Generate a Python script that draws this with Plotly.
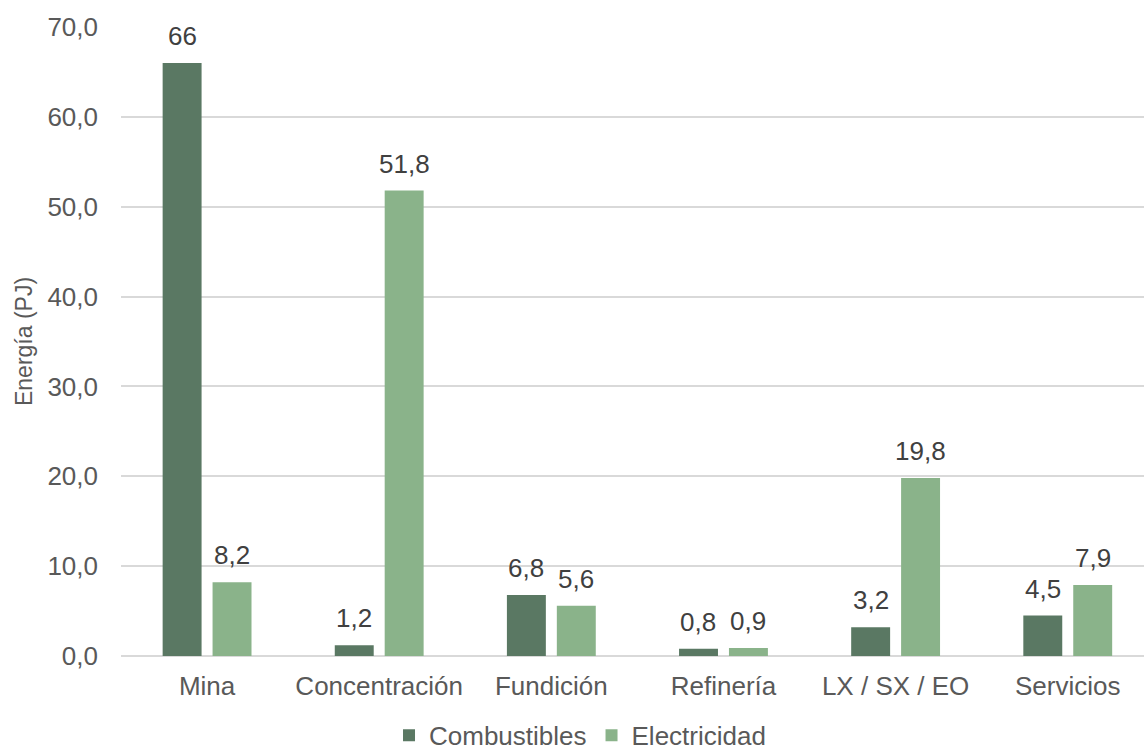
import plotly.graph_objects as go

categorias = ["Mina", "Concentración", "Fundición", "Refinería", "LX / SX / EO", "Servicios"]
combustibles = [66, 1.2, 6.8, 0.8, 3.2, 4.5]
electricidad = [8.2, 51.8, 5.6, 0.9, 19.8, 7.9]
y_ticks = [0, 10, 20, 30, 40, 50, 60, 70]

FONT = "Liberation Sans"
OSCURO = "#5a7863"
CLARO = "#8ab38a"


def etiqueta(v):
    if float(v).is_integer():
        return f"{int(v)}"
    return f"{v:.1f}".replace(".", ",")


fig = go.Figure()
fig.add_trace(go.Bar(name="Combustibles", x=categorias, y=combustibles,
                     marker=dict(color=OSCURO, line=dict(width=0))))
fig.add_trace(go.Bar(name="Electricidad", x=categorias, y=electricidad,
                     marker=dict(color=CLARO, line=dict(width=0))))

# value labels above each bar, shifted onto its bar within the group
anotaciones = []
for serie, desplaz in ((combustibles, -25), (electricidad, 25)):
    for cat, v in zip(categorias, serie):
        anotaciones.append(dict(
            x=cat, y=v, xref="x", yref="y", text=etiqueta(v),
            showarrow=False, xanchor="center", yanchor="bottom",
            xshift=desplaz, yshift=10,
            font=dict(family=FONT, size=26, color="#404040"),
        ))

fig.update_layout(
    width=1144, height=751,
    margin=dict(l=121, r=0, t=27, b=95),
    paper_bgcolor="white", plot_bgcolor="white",
    separators=",.",
    barmode="group", bargap=0.42, bargroupgap=0.22,
    font=dict(family=FONT, size=26, color="#595959"),
    showlegend=True,
    legend=dict(orientation="h", xref="container", yref="container",
                x=0.507, xanchor="center", y=0.021, yanchor="middle",
                font=dict(family=FONT, size=26, color="#595959"),
                traceorder="normal", itemwidth=30),
    annotations=anotaciones,
)
fig.update_yaxes(
    range=[0, 70], tickvals=y_ticks, tickformat=".1f",
    showgrid=True, gridcolor="#d9d9d9", gridwidth=1.5,
    zeroline=True, zerolinecolor="#d9d9d9", zerolinewidth=1.5,
    showline=False, ticks="", ticklabelstandoff=22,
    tickfont=dict(family=FONT, size=26, color="#595959"),
    title=dict(text="Energía (PJ)", font=dict(family=FONT, size=23, color="#595959"),
               standoff=8),
)
fig.update_xaxes(
    range=[-0.5, 5.443],
    showgrid=False, showline=False, ticks="", ticklabelstandoff=12,
    tickfont=dict(family=FONT, size=26, color="#595959"),
)

fig.write_html("out.html")
